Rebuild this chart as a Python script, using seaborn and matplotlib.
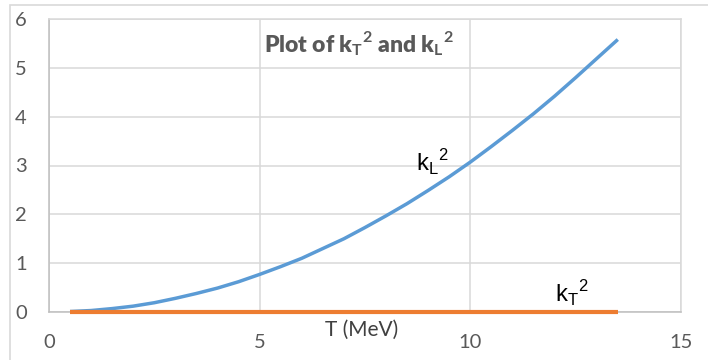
import seaborn as sns
import matplotlib.pyplot as plt
import pandas as pd
from matplotlib.patches import Rectangle

# values
T_mev = [0.5, 1, 1.5, 2, 2.5, 3, 3.5, 4, 4.5, 5, 5.5, 6, 6.5, 7, 7.5,
         8, 8.5, 9, 9.5, 10, 10.5, 11, 11.5, 12, 12.5, 13, 13.5]
kL2 = [0.01, 0.03, 0.07, 0.12, 0.19, 0.28, 0.38, 0.49, 0.62, 0.77, 0.93, 1.1, 1.3, 1.5, 1.73,
       1.97, 2.22, 2.49, 2.77, 3.07, 3.39, 3.72, 4.06, 4.42, 4.8, 5.19, 5.58]
kT2 = [0.0] * len(T_mev)

df = pd.DataFrame({'T': T_mev * 2,
                   'k2': kL2 + kT2,
                   'series': ['kL2'] * len(T_mev) + ['kT2'] * len(T_mev)})

sns.set_style('white')
plt.rcParams['font.family'] = ['Lato', 'DejaVu Sans']
plt.rcParams['mathtext.fontset'] = 'custom'
plt.rcParams['mathtext.bf'] = 'Lato:bold'
plt.rcParams['mathtext.sf'] = 'Liberation Sans'

fig = plt.figure(figsize=(7.08, 3.6), dpi=100)
ax = fig.add_axes([49 / 708, 1 - 312 / 360, (681 - 49) / 708, (312 - 19) / 360])

# outer chart border (only top/left visible in the crop)
fig.patches.append(Rectangle((10 / 708, -0.1), 1.2, 1 - 5 / 360 + 0.1,
                             transform=fig.transFigure, fill=False,
                             edgecolor='#d9d9d9', linewidth=1.2))

sns.lineplot(data=df, x='T', y='k2', hue='series', hue_order=['kL2', 'kT2'],
             palette={'kL2': '#5b9bd5', 'kT2': '#ed7d31'},
             linewidth=2.5, legend=False, ax=ax)
for ln in ax.lines:
    ln.set_clip_on(False)
    ln.set_zorder(4)
    ln.set_solid_capstyle('butt')
ax.lines[-1].set_linewidth(3.0)

ax.set_xlim(0, 15)
ax.set_ylim(0, 6)
ax.set_xticks([0, 5, 10, 15])
ax.set_yticks(range(7))
ax.grid(True, color='#d9d9d9', linewidth=1.1)
ax.set_axisbelow(True)
for side in ['top', 'right']:
    ax.spines[side].set_color('#d9d9d9')
    ax.spines[side].set_linewidth(1.1)
for side in ['left', 'bottom']:
    ax.spines[side].set_color('#bfbfbf')
    ax.spines[side].set_linewidth(1.1)
ax.tick_params(length=0, labelsize=14.5, labelcolor='#595959', pad=16)
ax.set_xlabel('')
ax.set_ylabel('')

ax.text(7.36, 5.5, r'Plot of k$_\mathbf{T}$$^\mathbf{2}$ and k$_\mathbf{L}$$^\mathbf{2}$',
        ha='center', va='center', fontsize=16.5, fontweight='heavy', color='#595959')
ax.text(9.1, 3.05, r'k$_\mathsf{L}$$^\mathsf{2}$', ha='center', va='center',
        fontsize=17, family='Liberation Sans', color='black')
ax.text(12.4, 0.37, r'k$_\mathsf{T}$$^\mathsf{2}$', ha='center', va='center',
        fontsize=17, family='Liberation Sans', color='black')
ax.text(7.43, -0.37, 'T (MeV)', ha='center', va='center', fontsize=15,
        color='#404040', clip_on=False)

fig.savefig('out.png', dpi=100)
